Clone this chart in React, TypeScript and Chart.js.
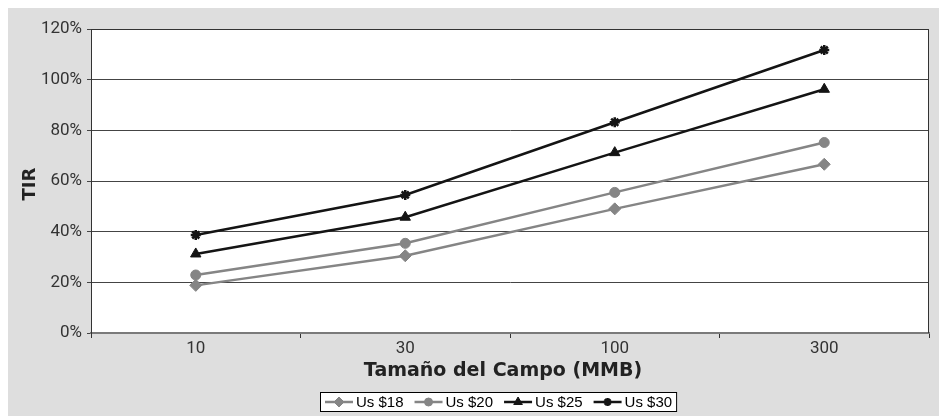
import { useEffect, useRef } from "react";
import { Chart, registerables } from "chart.js";
import { drawPoint } from "chart.js/helpers";

Chart.register(...registerables);

const categories = ["10", "30", "100", "300"];
const seriesNames = ["Us $18", "Us $20", "Us $25", "Us $30"];
const us18 = [0.188, 0.305, 0.49, 0.666];
const us20 = [0.229, 0.354, 0.555, 0.752];
const us25 = [0.312, 0.457, 0.712, 0.962];
const us30 = [0.387, 0.545, 0.832, 1.117];
const yMin = 0;
const yMax = 1.2;
const yStep = 0.2;
const xTitle = "Tamaño del Campo (MMB)";
const yTitle = "TIR";

const GRAY = "#858585";
const BLACK = "#141414";

const styles = [
  { color: GRAY, pointStyle: "rectRot", radius: 6 },
  { color: GRAY, pointStyle: "circle", radius: 5 },
  { color: BLACK, pointStyle: "triangle", radius: 6 },
  { color: BLACK, pointStyle: "star", radius: 5 },
];

const decorPlugin = {
  id: "decor",
  beforeDraw(chart: any) {
    const { ctx, chartArea: a } = chart;
    ctx.save();
    ctx.fillStyle = "#ffffff";
    ctx.fillRect(a.left, a.top, a.right - a.left, a.bottom - a.top);
    ctx.restore();
  },
  beforeDatasetsDraw(chart: any) {
    const { ctx, chartArea: a } = chart;
    ctx.save();
    ctx.strokeStyle = "#333333";
    ctx.lineWidth = 1;
    ctx.beginPath();
    ctx.moveTo(a.left, a.top + 0.5);
    ctx.lineTo(a.right - 0.5, a.top + 0.5);
    ctx.lineTo(a.right - 0.5, a.bottom);
    ctx.stroke();
    ctx.restore();
  },
  afterDraw(chart: any) {
    const { ctx } = chart;
    ctx.save();
    // axis titles
    ctx.fillStyle = "#222222";
    ctx.textAlign = "center";
    ctx.textBaseline = "middle";
    ctx.font = 'bold 19px "DejaVu Sans"';
    ctx.fillText(xTitle, 495, 363);
    ctx.save();
    ctx.translate(22, 176);
    ctx.rotate(-Math.PI / 2);
    ctx.font = 'bold 18px "DejaVu Sans"';
    ctx.fillText(yTitle, 0, 0);
    ctx.restore();

    // legend
    ctx.font = '15px "Liberation Sans"';
    const lineW = 28;
    const gap = 3;
    const itemGap = 11;
    const widths = seriesNames.map((n) => ctx.measureText(n).width);
    let total = 0;
    widths.forEach((w, i) => {
      total += lineW + gap + w + (i < widths.length - 1 ? itemGap : 0);
    });
    const cx = 491;
    const cy = 394;
    let x = Math.round(cx - total / 2);
    const boxL = x - 5;
    const boxR = x + total + 5;
    ctx.fillStyle = "#ffffff";
    ctx.fillRect(boxL, 384, boxR - boxL, 20);
    ctx.strokeStyle = "#000000";
    ctx.lineWidth = 1;
    ctx.strokeRect(boxL + 0.5, 384.5, boxR - boxL - 1, 19);
    seriesNames.forEach((name, i) => {
      const st = styles[i];
      ctx.strokeStyle = st.color;
      ctx.fillStyle = st.color;
      ctx.lineWidth = 2.5;
      ctx.beginPath();
      ctx.moveTo(x, cy);
      ctx.lineTo(x + lineW, cy);
      ctx.stroke();
      ctx.lineWidth = st.pointStyle === "star" ? 2.5 : 1;
      drawPoint(ctx, { pointStyle: st.pointStyle, radius: st.radius - 1, rotation: 0, borderWidth: st.pointStyle === "star" ? 2.5 : 1 } as any, x + lineW / 2, cy);
      ctx.fillStyle = "#000000";
      ctx.textAlign = "left";
      ctx.textBaseline = "middle";
      ctx.fillText(name, x + lineW + gap, cy + 1);
      x += lineW + gap + widths[i] + itemGap;
    });
    ctx.restore();
  },
};

export default function App() {
  const ref = useRef<HTMLCanvasElement | null>(null);
  useEffect(() => {
    if (!ref.current) return;
    const seriesData = [us18, us20, us25, us30];
    const chart = new Chart(ref.current, {
      type: "line",
      data: {
        labels: categories,
        datasets: seriesData.map((d, i) => ({
          label: seriesNames[i],
          data: d,
          borderColor: styles[i].color,
          backgroundColor: styles[i].color,
          pointBackgroundColor: styles[i].color,
          pointBorderColor: styles[i].color,
          pointStyle: styles[i].pointStyle as any,
          pointRadius: styles[i].radius,
          pointBorderWidth: styles[i].pointStyle === "star" ? 2.5 : 1,
          borderWidth: 2.5,
          tension: 0,
          fill: false,
        })),
      },
      options: {
        animation: false,
        responsive: true,
        maintainAspectRatio: false,
        layout: { padding: { left: 0, top: 21, right: 10, bottom: 0 } },
        plugins: {
          legend: { display: false },
          tooltip: { enabled: false },
        },
        scales: {
          x: {
            type: "category",
            offset: true,
            grid: {
              display: true,
              drawOnChartArea: false,
              drawTicks: true,
              tickLength: 5,
              offset: true,
              color: "#333333",
              lineWidth: 1,
            },
            border: { display: true, color: "#7a7a7a", width: 2 },
            ticks: {
              font: { family: "Roboto", size: 17 },
              color: "#333333",
              padding: 1,
              maxRotation: 0,
            },
            afterFit: (s: any) => {
              s.height = 83;
            },
          },
          y: {
            min: yMin,
            max: yMax,
            grid: {
              color: "#444444",
              lineWidth: 1,
              tickLength: 4,
              drawTicks: true,
            },
            border: { display: true, color: "#333333", width: 1 },
            ticks: {
              stepSize: yStep,
              font: { family: "Roboto", size: 17 },
              color: "#333333",
              padding: 5,
              callback: (v: any) => Math.round(Number(v) * 100) + "%",
            },
            afterFit: (s: any) => {
              s.width = 83;
            },
          },
        },
      },
      plugins: [decorPlugin],
    });
    return () => chart.destroy();
  }, []);
  return (
    <div
      style={{
        position: "fixed",
        left: 8,
        top: 8,
        right: 0,
        bottom: 0,
        background: "#dedede",
      }}
    >
      <canvas ref={ref} />
    </div>
  );
}
